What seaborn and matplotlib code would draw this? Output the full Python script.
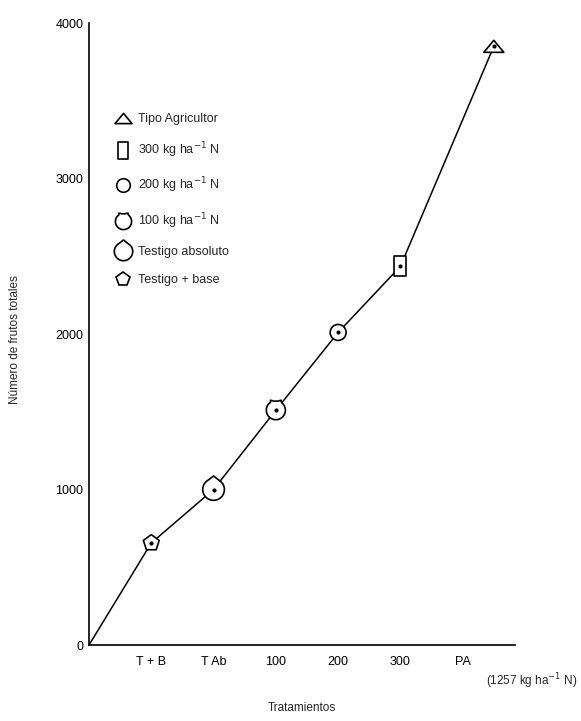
import numpy as np
import pandas as pd
import matplotlib.pyplot as plt
from matplotlib.path import Path
from matplotlib.lines import Line2D
import seaborn as sns

# Datos
tratamientos = ["T + B", "T Ab", "100", "200", "300", "PA"]
posicion_x = [1, 2, 3, 4, 5, 6.5]
frutos = [656, 1000, 1510, 2010, 2435, 3850]
leyenda = ["Testigo + base", "Testigo absoluto", "100 kg ha$^{-1}$ N",
           "200 kg ha$^{-1}$ N", "300 kg ha$^{-1}$ N", "Tipo Agricultor"]
y_ticks = [0, 1000, 2000, 3000, 4000]

# Formas de los marcadores
m_triangulo = Path([(-1, -0.6), (1, -0.6), (0, 0.6), (-1, -0.6)], closed=True)
m_rect = Path([(-0.6, -1), (0.6, -1), (0.6, 1), (-0.6, 1), (-0.6, -1)], closed=True)
ang = np.linspace(np.radians(55), np.radians(55 - 290), 40)
m_cien = Path(np.vstack([np.c_[np.cos(ang), np.sin(ang)],
                         [(-0.55, 1.05), (-0.2, 0.95), (0.2, 0.95), (0.55, 1.05),
                          (np.cos(ang[0]), np.sin(ang[0]))]]))
ang2 = np.linspace(np.radians(40), np.radians(40 - 280), 40)
m_gota = Path(np.vstack([np.c_[np.cos(ang2), np.sin(ang2)],
                         [(0, 1.25), (np.cos(ang2[0]), np.sin(ang2[0]))]]))

marcadores = {"T + B": "p", "T Ab": m_gota, "100": m_cien,
              "200": "o", "300": m_rect, "PA": m_triangulo}
tamanos = {"T + B": 12, "T Ab": 19.5, "100": 14.4, "200": 11.5, "300": 14.4, "PA": 14.4}

df = pd.DataFrame({"x": posicion_x, "y": frutos, "trat": tratamientos})
linea = pd.DataFrame({"x": [0] + posicion_x, "y": [0] + frutos})

sns.set_theme(style="white")
plt.rcParams["font.family"] = ["Liberation Sans", "DejaVu Sans"]

fig = plt.figure(figsize=(5.81, 7.21), dpi=100)
ax = fig.add_axes([89 / 581, 1 - 645 / 721, 426 / 581, 622 / 721])

sns.lineplot(data=linea, x="x", y="y", color="black", linewidth=1.1, ax=ax,
             sort=False, zorder=2)
sns.scatterplot(data=df, x="x", y="y", style="trat", markers=marcadores,
                size="trat", sizes={k: v ** 2 for k, v in tamanos.items()},
                color="white", edgecolor="black", linewidth=1.2, legend=False,
                ax=ax, zorder=3, clip_on=False)
ax.scatter(df["x"], df["y"], s=4, color="black", zorder=4)

ax.set_xlim(0, 6.84)
ax.set_ylim(0, 4000)
ax.set_xticks(range(1, 7))
ax.set_xticklabels(tratamientos)
ax.set_yticks(y_ticks)
ax.set_xlabel("")
ax.set_ylabel("")
ax.tick_params(axis="both", direction="in", length=4.5, width=1, colors="black",
               labelsize=9)
ax.tick_params(axis="x", pad=8)
ax.tick_params(axis="y", pad=4)
for lado in ["top", "right"]:
    ax.spines[lado].set_visible(False)
for lado in ["left", "bottom"]:
    ax.spines[lado].set_color("black")
    ax.spines[lado].set_linewidth(1.2)

# Leyenda
orden = ["PA", "300", "200", "100", "T Ab", "T + B"]
handles = [Line2D([], [], linestyle="none", marker=marcadores[k],
                  markersize=tamanos[k] * 0.85, markerfacecolor="white",
                  markeredgecolor="black", markeredgewidth=1.2) for k in orden]
etiquetas = [leyenda[tratamientos.index(k)] for k in orden]
ax.legend(handles, etiquetas, loc="upper left", frameon=False, fontsize=9,
          bbox_to_anchor=(114 / 581, 1 - 113 / 721), bbox_transform=fig.transFigure,
          borderaxespad=0, borderpad=0, labelspacing=1.25, handlelength=1.5,
          handletextpad=0.45)

fig.text(15 / 581, 1 - 340 / 721, "Número de frutos totales", rotation=90,
         ha="center", va="center", fontsize=8.5)
fig.text(302 / 581, 1 - 708 / 721, "Tratamientos", ha="center", va="center",
         fontsize=8.5)
fig.text(577 / 581, 1 - 681 / 721, "(1257 kg ha$^{-1}$ N)", ha="right",
         va="center", fontsize=8.5)

fig.savefig("out.png", dpi=100, facecolor="white")
